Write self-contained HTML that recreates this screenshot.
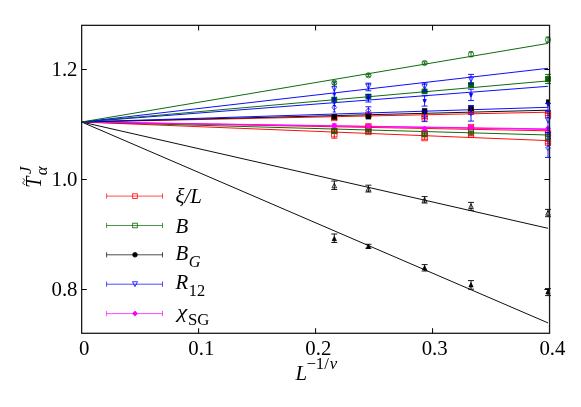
<!DOCTYPE html>
<html><head><meta charset="utf-8"><title>chart</title>
<style>html,body{margin:0;padding:0;background:#fff;}body{width:581px;height:407px;overflow:hidden;position:relative;font-family:"Liberation Serif",serif;}</style>
</head><body>
<svg width="581" height="407" viewBox="0 0 581 407" style="position:absolute;left:0;top:0;will-change:transform">
<rect x="0" y="0" width="581" height="407" fill="#fff"/>
<clipPath id="c"><rect x="81.65" y="25.35" width="467.9" height="307.95"/></clipPath>
<g stroke-width="0.95" fill="none" stroke-linecap="butt">
<line x1="81.65" y1="122.0" x2="548.0" y2="322.9" stroke="#000000"/>
<line x1="81.65" y1="122.0" x2="548.0" y2="228.3" stroke="#000000"/>
<line x1="81.65" y1="122.0" x2="548.0" y2="140.6" stroke="#ff0000"/>
<line x1="81.65" y1="122.0" x2="548.0" y2="130.8" stroke="#ff0000"/>
<line x1="81.65" y1="122.0" x2="548.0" y2="135.0" stroke="#006400"/>
<line x1="81.65" y1="122.0" x2="548.0" y2="129.5" stroke="#ff00ff"/>
<line x1="81.65" y1="122.0" x2="548.0" y2="128.9" stroke="#ff00ff"/>
<line x1="81.65" y1="122.0" x2="548.0" y2="112.2" stroke="#ff0000"/>
<line x1="81.65" y1="122.0" x2="548.0" y2="110.2" stroke="#000000"/>
<line x1="81.65" y1="122.0" x2="548.0" y2="107.3" stroke="#0000ff"/>
<line x1="81.65" y1="122.0" x2="548.0" y2="86.3" stroke="#0000ff"/>
<line x1="81.65" y1="122.0" x2="548.0" y2="80.9" stroke="#006400"/>
<line x1="81.65" y1="122.0" x2="548.0" y2="68.3" stroke="#0000ff"/>
<line x1="81.65" y1="122.0" x2="548.0" y2="43.4" stroke="#006400"/>
</g>
<path d="M334.30,116.50 V119.50 M331.30,116.50 H337.30 M331.30,119.50 H337.30" fill="none" stroke="#ff0000" stroke-width="0.9"/>
<rect x="331.60" y="115.30" width="5.4" height="5.4" fill="none" stroke="#ff0000" stroke-width="0.8"/>
<path d="M334.30,129.00 V133.00 M331.30,129.00 H337.30 M331.30,133.00 H337.30" fill="none" stroke="#ff0000" stroke-width="0.9"/>
<rect x="331.60" y="128.30" width="5.4" height="5.4" fill="none" stroke="#ff0000" stroke-width="0.8"/>
<path d="M334.30,130.20 V138.20 M331.30,130.20 H337.30 M331.30,138.20 H337.30" fill="none" stroke="#ff0000" stroke-width="0.9"/>
<rect x="331.60" y="131.50" width="5.4" height="5.4" fill="none" stroke="#ff0000" stroke-width="0.8"/>
<path d="M368.40,113.60 V116.00 M365.40,113.60 H371.40 M365.40,116.00 H371.40" fill="none" stroke="#ff0000" stroke-width="0.9"/>
<rect x="365.70" y="112.10" width="5.4" height="5.4" fill="none" stroke="#ff0000" stroke-width="0.8"/>
<path d="M368.40,125.20 V127.60 M365.40,125.20 H371.40 M365.40,127.60 H371.40" fill="none" stroke="#ff0000" stroke-width="0.9"/>
<rect x="365.70" y="123.70" width="5.4" height="5.4" fill="none" stroke="#ff0000" stroke-width="0.8"/>
<path d="M368.40,130.50 V133.50 M365.40,130.50 H371.40 M365.40,133.50 H371.40" fill="none" stroke="#ff0000" stroke-width="0.9"/>
<rect x="365.70" y="129.30" width="5.4" height="5.4" fill="none" stroke="#ff0000" stroke-width="0.8"/>
<path d="M424.60,116.40 V118.40 M421.60,116.40 H427.60 M421.60,118.40 H427.60" fill="none" stroke="#ff0000" stroke-width="0.9"/>
<rect x="421.90" y="114.70" width="5.4" height="5.4" fill="none" stroke="#ff0000" stroke-width="0.8"/>
<path d="M424.60,132.00 V134.00 M421.60,132.00 H427.60 M421.60,134.00 H427.60" fill="none" stroke="#ff0000" stroke-width="0.9"/>
<rect x="421.90" y="130.30" width="5.4" height="5.4" fill="none" stroke="#ff0000" stroke-width="0.8"/>
<path d="M424.60,136.90 V139.30 M421.60,136.90 H427.60 M421.60,139.30 H427.60" fill="none" stroke="#ff0000" stroke-width="0.9"/>
<rect x="421.90" y="135.40" width="5.4" height="5.4" fill="none" stroke="#ff0000" stroke-width="0.8"/>
<path d="M471.00,110.80 V112.80 M468.00,110.80 H474.00 M468.00,112.80 H474.00" fill="none" stroke="#ff0000" stroke-width="0.9"/>
<rect x="468.30" y="109.10" width="5.4" height="5.4" fill="none" stroke="#ff0000" stroke-width="0.8"/>
<path d="M471.00,126.00 V128.00 M468.00,126.00 H474.00 M468.00,128.00 H474.00" fill="none" stroke="#ff0000" stroke-width="0.9"/>
<rect x="468.30" y="124.30" width="5.4" height="5.4" fill="none" stroke="#ff0000" stroke-width="0.8"/>
<path d="M471.00,133.20 V135.60 M468.00,133.20 H474.00 M468.00,135.60 H474.00" fill="none" stroke="#ff0000" stroke-width="0.9"/>
<rect x="468.30" y="131.70" width="5.4" height="5.4" fill="none" stroke="#ff0000" stroke-width="0.8"/>
<path d="M548.00,113.60 V115.60 M545.00,113.60 H551.00 M545.00,115.60 H551.00" fill="none" stroke="#ff0000" stroke-width="0.9"/>
<rect x="545.30" y="111.90" width="5.4" height="5.4" fill="none" stroke="#ff0000" stroke-width="0.8"/>
<path d="M548.00,132.60 V134.60 M545.00,132.60 H551.00 M545.00,134.60 H551.00" fill="none" stroke="#ff0000" stroke-width="0.9"/>
<rect x="545.30" y="130.90" width="5.4" height="5.4" fill="none" stroke="#ff0000" stroke-width="0.8"/>
<path d="M548.00,141.40 V143.80 M545.00,141.40 H551.00 M545.00,143.80 H551.00" fill="none" stroke="#ff0000" stroke-width="0.9"/>
<rect x="545.30" y="139.90" width="5.4" height="5.4" fill="none" stroke="#ff0000" stroke-width="0.8"/>
<path d="M334.30,129.50 V132.50 M331.30,129.50 H337.30 M331.30,132.50 H337.30" fill="none" stroke="#006400" stroke-width="0.9"/>
<rect x="331.90" y="128.60" width="4.8" height="4.8" fill="none" stroke="#006400" stroke-width="0.8"/>
<path d="M368.40,129.50 V131.50 M365.40,129.50 H371.40 M365.40,131.50 H371.40" fill="none" stroke="#006400" stroke-width="0.9"/>
<rect x="366.00" y="128.10" width="4.8" height="4.8" fill="none" stroke="#006400" stroke-width="0.8"/>
<path d="M424.60,133.20 V135.20 M421.60,133.20 H427.60 M421.60,135.20 H427.60" fill="none" stroke="#006400" stroke-width="0.9"/>
<rect x="422.20" y="131.80" width="4.8" height="4.8" fill="none" stroke="#006400" stroke-width="0.8"/>
<path d="M471.00,131.00 V133.00 M468.00,131.00 H474.00 M468.00,133.00 H474.00" fill="none" stroke="#006400" stroke-width="0.9"/>
<rect x="468.60" y="129.60" width="4.8" height="4.8" fill="none" stroke="#006400" stroke-width="0.8"/>
<path d="M548.00,136.20 V138.20 M545.00,136.20 H551.00 M545.00,138.20 H551.00" fill="none" stroke="#006400" stroke-width="0.9"/>
<rect x="545.60" y="134.80" width="4.8" height="4.8" fill="none" stroke="#006400" stroke-width="0.8"/>
<rect x="332.50" y="123.80" width="3.6" height="3.6" fill="#ff00ff" stroke="#ff00ff" stroke-width="0.8"/>
<path d="M332.00,125.30 L334.30,123.00 L336.60,125.30 L334.30,127.60 Z" fill="#ff00ff" stroke="#ff00ff" stroke-width="0.8"/>
<rect x="366.60" y="124.60" width="3.6" height="3.6" fill="#ff00ff" stroke="#ff00ff" stroke-width="0.8"/>
<path d="M366.10,126.10 L368.40,123.80 L370.70,126.10 L368.40,128.40 Z" fill="#ff00ff" stroke="#ff00ff" stroke-width="0.8"/>
<rect x="422.80" y="127.00" width="3.6" height="3.6" fill="#ff00ff" stroke="#ff00ff" stroke-width="0.8"/>
<path d="M422.30,128.50 L424.60,126.20 L426.90,128.50 L424.60,130.80 Z" fill="#ff00ff" stroke="#ff00ff" stroke-width="0.8"/>
<rect x="469.20" y="125.70" width="3.6" height="3.6" fill="#ff00ff" stroke="#ff00ff" stroke-width="0.8"/>
<path d="M468.70,127.20 L471.00,124.90 L473.30,127.20 L471.00,129.50 Z" fill="#ff00ff" stroke="#ff00ff" stroke-width="0.8"/>
<rect x="546.20" y="127.10" width="3.6" height="3.6" fill="#ff00ff" stroke="#ff00ff" stroke-width="0.8"/>
<path d="M545.70,128.60 L548.00,126.30 L550.30,128.60 L548.00,130.90 Z" fill="#ff00ff" stroke="#ff00ff" stroke-width="0.8"/>
<rect x="332.00" y="114.50" width="4.6" height="4.6" fill="#000000" stroke="#000000" stroke-width="0.8"/>
<rect x="366.10" y="114.40" width="4.6" height="4.6" fill="#000000" stroke="#000000" stroke-width="0.8"/>
<rect x="422.30" y="108.70" width="4.6" height="4.6" fill="#000000" stroke="#000000" stroke-width="0.8"/>
<rect x="468.70" y="106.30" width="4.6" height="4.6" fill="#000000" stroke="#000000" stroke-width="0.8"/>
<rect x="546.50" y="99.90" width="3.0" height="3.0" fill="#000000" stroke="#000000" stroke-width="0.8"/>
<path d="M334.30,98.00 V101.00 M331.30,98.00 H337.30 M331.30,101.00 H337.30" fill="none" stroke="#006400" stroke-width="0.9"/>
<rect x="331.90" y="97.10" width="4.8" height="4.8" fill="#006400" stroke="#006400" stroke-width="0.8"/>
<path d="M368.40,95.30 V97.70 M365.40,95.30 H371.40 M365.40,97.70 H371.40" fill="none" stroke="#006400" stroke-width="0.9"/>
<rect x="366.00" y="94.10" width="4.8" height="4.8" fill="#006400" stroke="#006400" stroke-width="0.8"/>
<path d="M424.60,90.20 V92.60 M421.60,90.20 H427.60 M421.60,92.60 H427.60" fill="none" stroke="#006400" stroke-width="0.9"/>
<rect x="422.20" y="89.00" width="4.8" height="4.8" fill="#006400" stroke="#006400" stroke-width="0.8"/>
<path d="M471.00,83.60 V86.00 M468.00,83.60 H474.00 M468.00,86.00 H474.00" fill="none" stroke="#006400" stroke-width="0.9"/>
<rect x="468.60" y="82.40" width="4.8" height="4.8" fill="#006400" stroke="#006400" stroke-width="0.8"/>
<path d="M548.00,74.40 V83.60 M545.00,74.40 H551.00 M545.00,83.60 H551.00" fill="none" stroke="#006400" stroke-width="0.9"/>
<rect x="545.60" y="76.60" width="4.8" height="4.8" fill="#006400" stroke="#006400" stroke-width="0.8"/>
<path d="M334.30,93.50 V105.60 M332.70,93.50 H335.90 M332.70,105.60 H335.90" fill="none" stroke="#0000ff" stroke-width="0.9"/>
<path d="M332.60,98.10 L336.00,98.10 L334.30,101.50 Z" fill="#0000ff" stroke="#0000ff" stroke-width="0.8"/>
<path d="M368.40,94.60 V102.00 M365.40,94.60 H371.40 M365.40,102.00 H371.40" fill="none" stroke="#0000ff" stroke-width="0.9"/>
<path d="M366.70,96.70 L370.10,96.70 L368.40,100.10 Z" fill="#0000ff" stroke="#0000ff" stroke-width="0.8"/>
<path d="M424.60,95.80 V106.10 M421.60,95.80 H427.60 M421.60,106.10 H427.60" fill="none" stroke="#0000ff" stroke-width="0.9"/>
<path d="M422.90,99.50 L426.30,99.50 L424.60,102.90 Z" fill="#0000ff" stroke="#0000ff" stroke-width="0.8"/>
<path d="M471.00,89.20 V100.60 M468.00,89.20 H474.00 M468.00,100.60 H474.00" fill="none" stroke="#0000ff" stroke-width="0.9"/>
<path d="M469.30,93.50 L472.70,93.50 L471.00,96.90 Z" fill="#0000ff" stroke="#0000ff" stroke-width="0.8"/>
<path d="M548.00,103.40 V110.90 M545.00,103.40 H551.00 M545.00,110.90 H551.00" fill="none" stroke="#0000ff" stroke-width="0.9"/>
<path d="M546.30,103.10 L549.70,103.10 L548.00,106.50 Z" fill="#0000ff" stroke="#0000ff" stroke-width="0.8"/>
<path d="M334.30,82.60 V94.80 M332.70,82.60 H335.90 M332.70,94.80 H335.90" fill="none" stroke="#0000ff" stroke-width="0.9"/>
<path d="M331.80,86.40 L336.80,86.40 L334.30,91.40 Z" fill="none" stroke="#0000ff" stroke-width="0.8"/>
<path d="M368.40,83.20 V90.80 M365.40,83.20 H371.40 M365.40,90.80 H371.40" fill="none" stroke="#0000ff" stroke-width="0.9"/>
<path d="M365.90,84.10 L370.90,84.10 L368.40,89.10 Z" fill="none" stroke="#0000ff" stroke-width="0.8"/>
<path d="M424.60,83.00 V91.40 M421.60,83.00 H427.60 M421.60,91.40 H427.60" fill="none" stroke="#0000ff" stroke-width="0.9"/>
<path d="M422.10,84.40 L427.10,84.40 L424.60,89.40 Z" fill="none" stroke="#0000ff" stroke-width="0.8"/>
<path d="M471.00,74.40 V84.00 M468.00,74.40 H474.00 M468.00,84.00 H474.00" fill="none" stroke="#0000ff" stroke-width="0.9"/>
<path d="M468.50,76.90 L473.50,76.90 L471.00,81.90 Z" fill="none" stroke="#0000ff" stroke-width="0.8"/>
<path d="M548.00,111.00 V132.80 M545.00,111.00 H551.00 M545.00,132.80 H551.00" fill="none" stroke="#0000ff" stroke-width="0.9"/>
<path d="M545.50,117.90 L550.50,117.90 L548.00,122.90 Z" fill="none" stroke="#0000ff" stroke-width="0.8"/>
<path d="M334.30,103.00 V112.00 M332.70,103.00 H335.90 M332.70,112.00 H335.90" fill="none" stroke="#0000ff" stroke-width="0.9"/>
<path d="M331.90,107.50 L334.30,105.10 L336.70,107.50 L334.30,109.90 Z" fill="none" stroke="#0000ff" stroke-width="0.8"/>
<path d="M368.40,106.80 V113.80 M365.40,106.80 H371.40 M365.40,113.80 H371.40" fill="none" stroke="#0000ff" stroke-width="0.9"/>
<path d="M366.00,110.40 L368.40,108.00 L370.80,110.40 L368.40,112.80 Z" fill="none" stroke="#0000ff" stroke-width="0.8"/>
<path d="M424.60,111.00 V121.60 M421.60,111.00 H427.60 M421.60,121.60 H427.60" fill="none" stroke="#0000ff" stroke-width="0.9"/>
<path d="M422.20,116.50 L424.60,114.10 L427.00,116.50 L424.60,118.90 Z" fill="none" stroke="#0000ff" stroke-width="0.8"/>
<path d="M471.00,105.50 V121.10 M468.00,105.50 H474.00 M468.00,121.10 H474.00" fill="none" stroke="#0000ff" stroke-width="0.9"/>
<path d="M468.60,113.30 L471.00,110.90 L473.40,113.30 L471.00,115.70 Z" fill="none" stroke="#0000ff" stroke-width="0.8"/>
<path d="M548.00,132.80 V157.40 M545.00,132.80 H551.00 M545.00,157.40 H551.00" fill="none" stroke="#0000ff" stroke-width="0.9"/>
<path d="M545.60,148.00 L548.00,145.60 L550.40,148.00 L548.00,150.40 Z" fill="none" stroke="#0000ff" stroke-width="0.8"/>
<path d="M334.30,81.30 V84.30 M332.00,81.30 H336.60 M332.00,84.30 H336.60" fill="none" stroke="#006400" stroke-width="0.9"/>
<circle cx="334.30" cy="82.80" r="2.6" fill="none" stroke="#006400" stroke-width="0.8"/>
<path d="M368.40,74.30 V76.30 M366.10,74.30 H370.70 M366.10,76.30 H370.70" fill="none" stroke="#006400" stroke-width="0.9"/>
<circle cx="368.40" cy="75.30" r="2.6" fill="none" stroke="#006400" stroke-width="0.8"/>
<path d="M424.60,61.80 V64.20 M422.30,61.80 H426.90 M422.30,64.20 H426.90" fill="none" stroke="#006400" stroke-width="0.9"/>
<circle cx="424.60" cy="63.00" r="2.6" fill="none" stroke="#006400" stroke-width="0.8"/>
<path d="M471.00,51.90 V56.70 M468.70,51.90 H473.30 M468.70,56.70 H473.30" fill="none" stroke="#006400" stroke-width="0.9"/>
<circle cx="471.00" cy="54.30" r="2.6" fill="none" stroke="#006400" stroke-width="0.8"/>
<path d="M548.00,37.10 V42.30 M545.70,37.10 H550.30 M545.70,42.30 H550.30" fill="none" stroke="#006400" stroke-width="0.9"/>
<circle cx="548.00" cy="39.70" r="2.6" fill="none" stroke="#006400" stroke-width="0.8"/>
<path d="M334.30,181.00 V189.50 M331.30,181.00 H337.30 M331.30,189.50 H337.30" fill="none" stroke="#000000" stroke-width="0.9"/>
<path d="M332.00,187.80 L336.60,187.80 L334.30,183.20 Z" fill="none" stroke="#000000" stroke-width="0.8"/>
<path d="M368.40,185.20 V192.00 M365.40,185.20 H371.40 M365.40,192.00 H371.40" fill="none" stroke="#000000" stroke-width="0.9"/>
<path d="M366.10,191.10 L370.70,191.10 L368.40,186.50 Z" fill="none" stroke="#000000" stroke-width="0.8"/>
<path d="M424.60,196.60 V203.00 M421.60,196.60 H427.60 M421.60,203.00 H427.60" fill="none" stroke="#000000" stroke-width="0.9"/>
<path d="M422.30,202.10 L426.90,202.10 L424.60,197.50 Z" fill="none" stroke="#000000" stroke-width="0.8"/>
<path d="M471.00,202.40 V210.30 M468.00,202.40 H474.00 M468.00,210.30 H474.00" fill="none" stroke="#000000" stroke-width="0.9"/>
<path d="M468.70,208.50 L473.30,208.50 L471.00,203.90 Z" fill="none" stroke="#000000" stroke-width="0.8"/>
<path d="M548.00,209.40 V216.70 M545.00,209.40 H551.00 M545.00,216.70 H551.00" fill="none" stroke="#000000" stroke-width="0.9"/>
<path d="M545.70,215.20 L550.30,215.20 L548.00,210.60 Z" fill="none" stroke="#000000" stroke-width="0.8"/>
<path d="M334.30,234.00 V242.50 M331.30,234.00 H337.30 M331.30,242.50 H337.30" fill="none" stroke="#000000" stroke-width="0.9"/>
<path d="M332.20,240.70 L336.40,240.70 L334.30,236.50 Z" fill="#000000" stroke="#000000" stroke-width="0.8"/>
<path d="M368.40,244.30 V248.30 M365.40,244.30 H371.40 M365.40,248.30 H371.40" fill="none" stroke="#000000" stroke-width="0.9"/>
<path d="M366.30,248.40 L370.50,248.40 L368.40,244.20 Z" fill="#000000" stroke="#000000" stroke-width="0.8"/>
<path d="M424.60,264.60 V271.00 M421.60,264.60 H427.60 M421.60,271.00 H427.60" fill="none" stroke="#000000" stroke-width="0.9"/>
<path d="M422.50,269.90 L426.70,269.90 L424.60,265.70 Z" fill="#000000" stroke="#000000" stroke-width="0.8"/>
<path d="M471.00,280.60 V289.20 M468.00,280.60 H474.00 M468.00,289.20 H474.00" fill="none" stroke="#000000" stroke-width="0.9"/>
<path d="M468.90,286.90 L473.10,286.90 L471.00,282.70 Z" fill="#000000" stroke="#000000" stroke-width="0.8"/>
<path d="M548.00,288.60 V295.60 M545.00,288.60 H551.00 M545.00,295.60 H551.00" fill="none" stroke="#000000" stroke-width="0.9"/>
<path d="M545.90,293.90 L550.10,293.90 L548.00,289.70 Z" fill="#000000" stroke="#000000" stroke-width="0.8"/>
<rect x="81.65" y="25.35" width="467.90" height="307.95" fill="none" stroke="#1c1c1c" stroke-width="1.3"/>
<g stroke="#000" stroke-width="1.0">
<line x1="198.62" y1="333.3" x2="198.62" y2="328.2"/>
<line x1="198.62" y1="25.35" x2="198.62" y2="30.450000000000003"/>
<line x1="315.60" y1="333.3" x2="315.60" y2="328.2"/>
<line x1="315.60" y1="25.35" x2="315.60" y2="30.450000000000003"/>
<line x1="432.57" y1="333.3" x2="432.57" y2="328.2"/>
<line x1="432.57" y1="25.35" x2="432.57" y2="30.450000000000003"/>
<line x1="81.65" y1="289.50" x2="86.75" y2="289.50"/>
<line x1="549.55" y1="289.50" x2="544.4499999999999" y2="289.50"/>
<line x1="81.65" y1="179.50" x2="86.75" y2="179.50"/>
<line x1="549.55" y1="179.50" x2="544.4499999999999" y2="179.50"/>
<line x1="81.65" y1="69.50" x2="86.75" y2="69.50"/>
<line x1="549.55" y1="69.50" x2="544.4499999999999" y2="69.50"/>
</g>
<path d="M106.6,196.1 H162.5 M106.6,193.5 V198.7 M162.5,193.5 V198.7" fill="none" stroke="#ff0000" stroke-width="0.7"/>
<rect x="132.70" y="193.80" width="4.6" height="4.6" fill="none" stroke="#ff0000" stroke-width="0.8"/>
<path d="M106.6,225.5 H162.5 M106.6,222.9 V228.1 M162.5,222.9 V228.1" fill="none" stroke="#006400" stroke-width="0.7"/>
<rect x="132.70" y="223.20" width="4.6" height="4.6" fill="none" stroke="#006400" stroke-width="0.8"/>
<path d="M106.6,254.8 H162.5 M106.6,252.20000000000002 V257.40000000000003 M162.5,252.20000000000002 V257.40000000000003" fill="none" stroke="#000000" stroke-width="0.7"/>
<circle cx="135.00" cy="254.80" r="2.3" fill="#000000" stroke="#000000" stroke-width="0.8"/>
<path d="M106.6,284.2 H162.5 M106.6,281.59999999999997 V286.8 M162.5,281.59999999999997 V286.8" fill="none" stroke="#0000ff" stroke-width="0.7"/>
<path d="M132.50,281.70 L137.50,281.70 L135.00,286.70 Z" fill="none" stroke="#0000ff" stroke-width="0.8"/>
<path d="M106.6,313.6 H162.5 M106.6,311.0 V316.20000000000005 M162.5,311.0 V316.20000000000005" fill="none" stroke="#ff00ff" stroke-width="0.7"/>
<path d="M132.50,313.60 L135.00,311.10 L137.50,313.60 L135.00,316.10 Z" fill="#ff00ff" stroke="#ff00ff" stroke-width="0.8"/>
<g style="font-family:'Liberation Serif',serif" font-size="20.8" fill="#000">
<text x="77.5" y="296.40" text-anchor="end">0.8</text>
<text x="77.5" y="186.40" text-anchor="end">1.0</text>
<text x="77.5" y="76.40" text-anchor="end">1.2</text>
<text x="84.2" y="355.4" text-anchor="middle">0</text>
<text x="201.3" y="355.4" text-anchor="middle">0.1</text>
<text x="318.3" y="355.4" text-anchor="middle">0.2</text>
<text x="434.7" y="355.4" text-anchor="middle">0.3</text>
<text x="552.4" y="355.4" text-anchor="middle">0.4</text>
<text x="175.6" y="202.90"><tspan font-style="italic">ξ/L</tspan></text>
<text x="175.6" y="232.50"><tspan font-style="italic">B</tspan></text>
<text x="175.6" y="259.50"><tspan font-style="italic">B</tspan><tspan font-size="16.4" dy="7.0" dx="0.5" font-style="italic">G</tspan></text>
<text x="175.6" y="288.80"><tspan font-style="italic">R</tspan><tspan font-size="16.4" dy="6.8" dx="0.5">12</tspan></text>
<text transform="translate(177.2,318.00) scale(1.1,0.89)" font-style="italic">χ</text>
<text x="188.0" y="325.20" font-size="16.8">SG</text>
<text x="295.6" y="379.7"><tspan font-style="italic">L</tspan><tspan font-size="16.8" dy="-10.8" dx="-0.8">−1/</tspan><tspan font-size="16.8" font-style="italic" dx="0.8">ν</tspan></text>
<g transform="translate(40.8,186.5) rotate(-90)"><text x="-1.2" y="0" font-style="italic" font-size="21" transform="scale(0.95,1.08)">T</text><path d="M1.8,-15.8 C2.8,-18.6 4.2,-18.2 4.9,-17.0 C5.6,-15.8 6.9,-15.4 7.8,-18.0" fill="none" stroke="#000" stroke-width="0.8"/><text x="12.6" y="-10.3" font-style="italic" font-size="16.8">J</text><text x="11.2" y="6.4" font-style="italic" font-size="16.8">α</text></g>
</g>
</svg>
</body></html>
